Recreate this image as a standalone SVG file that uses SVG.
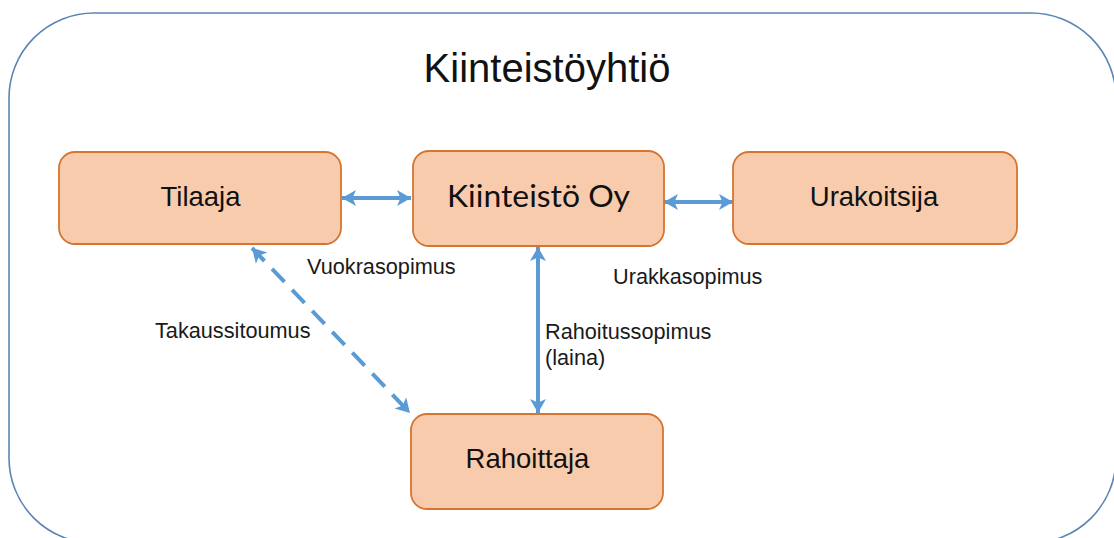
<svg xmlns="http://www.w3.org/2000/svg" width="1114" height="538" viewBox="0 0 1114 538">
  <style>
    .frame { fill: #ffffff; stroke: #5a85b3; stroke-width: 1.6; }
    .node rect { fill: #f8cbad; stroke: #d57530; stroke-width: 1.8; }
    .node text { font-family: "Liberation Sans", Arial, sans-serif; font-size: 27.5px; fill: #111111; text-anchor: middle; }
    .title { font-family: "Liberation Sans", Arial, sans-serif; font-size: 40px; fill: #111111; text-anchor: middle; }
    .label { font-family: "Liberation Sans", Arial, sans-serif; font-size: 21.7px; fill: #1a1a1a; }
    .link { stroke: #5b9bd5; stroke-width: 4; fill: none; }
    .dashed { stroke-dasharray: 18 11; }
  </style>
  <defs>
    <marker id="head" markerUnits="userSpaceOnUse" markerWidth="17" markerHeight="17" refX="14" refY="8" orient="auto-start-reverse" viewBox="0 0 17 16">
      <path d="M0,0 L14,8 L0,16 L3.5,8 Z" fill="#5b9bd5"/>
    </marker>
  </defs>

  <!-- outer company frame -->
  <rect class="frame" x="9" y="13" width="1107" height="530" rx="85" ry="85"/>
  <text class="title" x="547" y="82">Kiinteistöyhtiö</text>

  <!-- connectors -->
  <g id="connectors">
    <line class="link" x1="342" y1="198" x2="411" y2="198" marker-start="url(#head)" marker-end="url(#head)"/>
    <line class="link" x1="664" y1="202" x2="733" y2="202" marker-start="url(#head)" marker-end="url(#head)"/>
    <line class="link" x1="538" y1="247" x2="538" y2="413" marker-start="url(#head)" marker-end="url(#head)"/>
    <line class="link dashed" x1="252" y1="248" x2="410" y2="413" marker-start="url(#head)" marker-end="url(#head)"/>
    <text class="label" x="307" y="274">Vuokrasopimus</text>
    <text class="label" x="613" y="284">Urakkasopimus</text>
    <text class="label" x="155" y="338">Takaussitoumus</text>
    <text class="label" x="545" y="339">Rahoitussopimus</text>
    <text class="label" x="545" y="365">(laina)</text>
  </g>

  <g id="tilaaja" class="node">
    <rect x="59" y="152" width="282" height="92" rx="16"/>
    <text x="200.5" y="206">Tilaaja</text>
  </g>

  <g id="kiinteisto-oy" class="node">
    <rect x="413" y="151" width="251" height="95" rx="16"/>
    <text x="538.5" y="207" style="font-family: Lato, 'Open Sans', sans-serif; font-size: 30px;" textLength="183" lengthAdjust="spacingAndGlyphs">Kiinteistö Oy</text>
  </g>

  <g id="urakoitsija" class="node">
    <rect x="733" y="152" width="284" height="92" rx="16"/>
    <text x="874" y="206">Urakoitsija</text>
  </g>

  <g id="rahoittaja" class="node">
    <rect x="411" y="414" width="252" height="95" rx="16"/>
    <text x="527.5" y="468">Rahoittaja</text>
  </g>
</svg>
